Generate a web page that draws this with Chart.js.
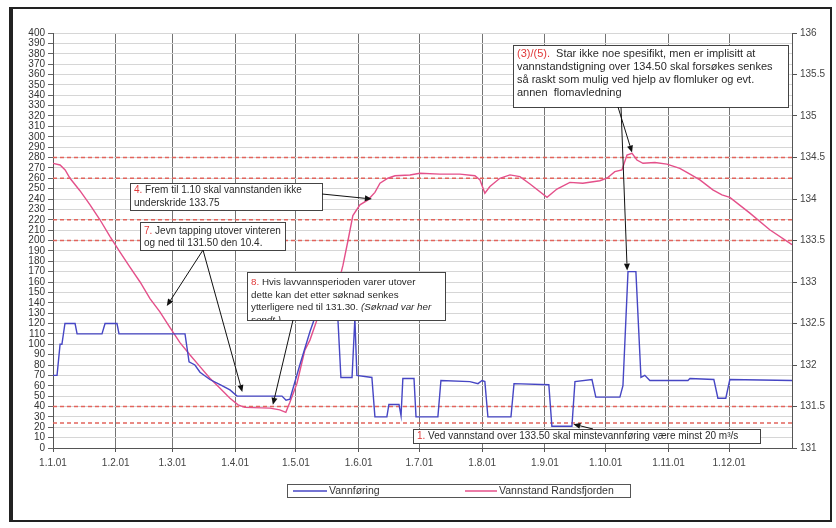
<!DOCTYPE html>
<html>
<head>
<meta charset="utf-8">
<script src="https://cdn.jsdelivr.net/npm/chart.js@4.4.1/dist/chart.umd.min.js"></script>
<style>
  html, body { margin: 0; padding: 0; background: #fff; }
  #wrap { width: 836px; height: 528px; }
</style>
</head>
<body>
<div id="wrap"><canvas id="chart" width="836" height="528"></canvas></div>
<script>
// -------------------------
// Data (x = day of year 2001, 0 = 1.1.01)
// -------------------------
const monthStarts = [0, 31, 59, 90, 120, 151, 181, 212, 243, 273, 304, 334];
const monthLabels = ["1.1.01", "1.2.01", "1.3.01", "1.4.01", "1.5.01", "1.6.01",
                     "1.7.01", "1.8.01", "1.9.01", "1.10.01", "1.11.01", "1.12.01"];

// Vannføring (m3/s, left axis)
const flowDays = [0, 2, 3.5, 4.4, 5.9, 10.9, 11.9, 24.2, 25.7, 31.6, 32.6, 65.2, 67.2, 70.1, 72.6,
  77.5, 82.5, 87.4, 90.9, 113.1, 115.1, 117, 121.9, 126.9, 132.8, 138.8, 140.7, 142.2, 147.7,
  149.1, 150.1, 157.5, 159, 164.9, 165.9, 170.9, 171.9, 172.8, 178.3, 179.3, 190.1, 191.6,
  205.9, 209.9, 211.9, 213.3, 214.8, 226.2, 227.7, 244.9, 246.4, 256.3, 257.8, 266.2, 268.1,
  280, 281.5, 284, 287.9, 290.4, 292.3, 294.8, 313.6, 314.6, 326.4, 328.4, 332.3, 334.3, 365];
const flowValues = [70, 70, 100, 100, 120, 120, 110, 110, 120, 120, 110, 110, 83, 80, 73,
  66, 61, 56, 50, 50, 46, 47, 80, 112, 145, 140, 125, 68, 68,
  125, 70, 68, 30, 30, 42, 42, 31, 67, 67, 30, 30, 65,
  64, 62, 65, 64, 30, 30, 62, 61, 21, 21, 64, 66, 49,
  49, 60, 170, 170, 68, 70, 65, 65, 67, 66, 48, 48, 66, 65];

// Vannstand Randsfjorden (moh, right axis)
const levelDays = [0, 3.5, 6, 8.4, 13.3, 18.3, 23.2, 28.1, 33.1, 38, 43, 47.9, 52.8, 57.8, 62.7,
  67.7, 72.6, 77.5, 82.5, 87.4, 91.4, 94.8, 107.2, 112, 115, 117, 120.5, 124.4, 126.9, 130.9,
  134.3, 138.3, 140.7, 143.2, 145.7, 148.1, 151.6, 155.6, 159, 161.5, 165.4, 168.9, 176.3,
  181.2, 191.1, 201, 208.4, 210.9, 213.3, 215.8, 220.7, 225.7, 230.6, 235.6, 244, 248.9,
  255.3, 261.7, 270.1, 273.6, 277.5, 281, 283.5, 286, 288.4, 291.4, 297.3, 303.2, 309.6,
  314.6, 319.5, 325.9, 330.4, 334.3, 344.2, 354, 365];
const levelValues = [134.43, 134.41, 134.35, 134.25, 134.10, 133.93, 133.75, 133.55, 133.36,
  133.18, 133.0, 132.8, 132.64, 132.45, 132.27, 132.12, 131.98, 131.84, 131.72, 131.60,
  131.52, 131.49, 131.48, 131.46, 131.43, 131.55, 131.78, 132.18, 132.3, 132.58, 132.69,
  132.78, 132.96, 133.2, 133.5, 133.8, 133.93, 133.99, 134.08, 134.19, 134.25, 134.28,
  134.29, 134.31, 134.30, 134.30, 134.28, 134.23, 134.07, 134.15, 134.25, 134.29, 134.27,
  134.18, 134.02, 134.12, 134.2, 134.19, 134.22, 134.25, 134.33, 134.35, 134.53, 134.55,
  134.47, 134.43, 134.44, 134.42, 134.37, 134.3, 134.23, 134.11, 134.05, 134.02, 133.83,
  133.63, 133.45];

// Reguleringsgrenser (dashed lines, right axis)
const guideLevels = [134.5, 134.25, 133.75, 133.5, 131.5, 131.3];

// -------------------------
// Text boxes (box in pixels, arrow tips in data units)
// -------------------------
const RED = "#e03a3a";
const notes = [
  { box: [513, 45, 275, 62], size: 11, top: 53.5, step: 13.2,
    lines: [[["(3)/(5).", RED], ["  Star ikke noe spesifikt, men er implisitt at"]],
            [["vannstandstigning over 134.50 skal forsøkes senkes"]],
            [["så raskt som mulig ved hjelp av flomluker og evt."]],
            [["annen  flomavledning"]]],
    arrows: [{ from: [618, 107], day: 286, y: 134.56, axis: "yR" },
             { from: [621, 107], day: 283.6, y: 171, axis: "y" }] },
  { box: [130, 183, 192, 27], size: 10, top: 190.5, step: 13,
    lines: [[["4.", RED], [" Frem til 1.10 skal vannstanden ikke"]],
            [["underskride 133.75"]]],
    arrows: [{ from: [322, 194], day: 157.5, y: 134.0, axis: "yR" }] },
  { box: [140, 222, 145, 28], size: 10, top: 231, step: 12.5,
    lines: [[["7.", RED], [" Jevn tapping utover vinteren"]],
            [["og ned til 131.50 den 10.4."]]],
    arrows: [{ from: [203, 250], day: 56.2, y: 132.71, axis: "yR" },
             { from: [203, 250], day: 93.5, y: 54, axis: "y" }] },
  { box: [247, 272, 198, 48], size: 9.8, top: 282, step: 12.8,
    lines: [[["8.", RED], [" Hvis lavvannsperioden varer utover"]],
            [["dette kan det etter søknad senkes"]],
            [["ytterligere ned til 131.30. "], ["(Søknad var her", null, true]],
            [["sendt.)", null, true]]],
    arrows: [{ from: [293, 320], day: 108.6, y: 131.52, axis: "yR" }] },
  { box: [413, 429, 347, 14], size: 10, top: 436, step: 12,
    lines: [[["1.", RED], [" Ved vannstand over 133.50 skal minstevannføring være minst 20 m³/s"]]],
    arrows: [{ from: [593, 429], day: 257, y: 23, axis: "y" }] }
];

const FONT = "'Liberation Sans', Arial, sans-serif";

function pairs(xs, ys) {
  return xs.map((x, i) => ({ x: x, y: ys[i] }));
}

function drawArrow(ctx, x1, y1, x2, y2) {
  const a = Math.atan2(y2 - y1, x2 - x1);
  const len = 7, w = 3;
  ctx.strokeStyle = "#111";
  ctx.fillStyle = "#111";
  ctx.lineWidth = 1;
  ctx.beginPath();
  ctx.moveTo(x1, y1);
  ctx.lineTo(x2 - Math.cos(a) * len, y2 - Math.sin(a) * len);
  ctx.stroke();
  ctx.beginPath();
  ctx.moveTo(x2, y2);
  ctx.lineTo(x2 - Math.cos(a) * len - Math.sin(a) * w, y2 - Math.sin(a) * len + Math.cos(a) * w);
  ctx.lineTo(x2 - Math.cos(a) * len + Math.sin(a) * w, y2 - Math.sin(a) * len - Math.cos(a) * w);
  ctx.closePath();
  ctx.fill();
}

// -------------------------
// Plugin: frame, text boxes, arrows, legend
// -------------------------
const notesPlugin = {
  id: "notes",
  beforeDraw(chart) {
    const ctx = chart.ctx;
    ctx.save();
    ctx.fillStyle = "#fff";
    ctx.fillRect(0, 0, chart.width, chart.height);
    ctx.strokeStyle = "#222";
    ctx.lineWidth = 2;
    ctx.strokeRect(12, 8, 819, 513);
    ctx.fillStyle = "#222";
    ctx.fillRect(9, 7, 4, 515);
    ctx.restore();
  },
  afterDatasetsDraw(chart) {
    const ctx = chart.ctx;
    const sx = chart.scales.x;
    ctx.save();
    notes.forEach(n => {
      const [bx, by, bw, bh] = n.box;
      ctx.fillStyle = "#fff";
      ctx.fillRect(bx, by, bw, bh);
      ctx.save();
      ctx.beginPath();
      ctx.rect(bx, by, bw, bh);
      ctx.clip();
      ctx.textBaseline = "middle";
      n.lines.forEach((segs, i) => {
        let x = bx + 4;
        const y = n.top + i * n.step;
        segs.forEach(s => {
          ctx.font = (s[2] ? "italic " : "") + n.size + "px " + FONT;
          ctx.fillStyle = s[1] || "#2a2a2a";
          ctx.fillText(s[0], x, y);
          x += ctx.measureText(s[0]).width;
        });
      });
      ctx.restore();
      ctx.strokeStyle = "#444";
      ctx.lineWidth = 1;
      ctx.strokeRect(bx + 0.5, by + 0.5, bw, bh);
    });
    notes.forEach(n => {
      n.arrows.forEach(a => {
        const tx = sx.getPixelForValue(a.day);
        const ty = chart.scales[a.axis].getPixelForValue(a.y);
        drawArrow(ctx, a.from[0], a.from[1], tx, ty);
      });
    });

    // legend
    ctx.strokeStyle = "#555";
    ctx.lineWidth = 1;
    ctx.strokeRect(287.5, 484.5, 343, 13);
    ctx.font = "10.5px " + FONT;
    ctx.textBaseline = "middle";
    ctx.fillStyle = "#333";
    const items = [[293, 327, chart.data.datasets[0]], [465, 497, chart.data.datasets[1]]];
    items.forEach(([x1, x2, ds]) => {
      ctx.strokeStyle = ds.borderColor;
      ctx.lineWidth = 1.5;
      ctx.beginPath();
      ctx.moveTo(x1, 491);
      ctx.lineTo(x2, 491);
      ctx.stroke();
      ctx.fillText(ds.label, x2 + 2, 491);
    });
    ctx.restore();
  }
};

const guideSets = guideLevels.map(l => ({
  label: "grense " + l,
  data: [{ x: 0, y: l }, { x: 365, y: l }],
  yAxisID: "yR",
  borderColor: "#e2645c",
  borderDash: [4, 3],
  borderWidth: 1.5,
  pointRadius: 0,
  order: 3
}));

new Chart(document.getElementById("chart"), {
  type: "line",
  data: {
    datasets: [
      { label: "Vannføring", data: pairs(flowDays, flowValues), yAxisID: "y",
        borderColor: "#4646c4", borderWidth: 1.4, pointRadius: 0, tension: 0, order: 1 },
      { label: "Vannstand Randsfjorden", data: pairs(levelDays, levelValues), yAxisID: "yR",
        borderColor: "#e4508a", borderWidth: 1.4, pointRadius: 0, tension: 0, order: 2 },
      ...guideSets
    ]
  },
  options: {
    responsive: false,
    animation: false,
    layout: { padding: { left: 13, right: 0, top: 33, bottom: 58 } },
    plugins: { legend: { display: false }, tooltip: { enabled: false } },
    scales: {
      x: {
        type: "linear", min: 0, max: 365,
        afterBuildTicks: axis => { axis.ticks = monthStarts.map(v => ({ value: v })); },
        afterFit: scale => { scale.height = 22; },
        ticks: {
          autoSkip: false, maxRotation: 0, padding: 5,
          color: "#444", font: { family: FONT, size: 10 },
          callback: v => monthLabels[monthStarts.indexOf(v)]
        },
        grid: { color: "#747474", lineWidth: 1, tickLength: 4, tickColor: "#555" },
        border: { color: "#555" }
      },
      y: {
        position: "left", min: 0, max: 400,
        afterFit: scale => { scale.width = 40; },
        ticks: { stepSize: 10, autoSkip: false, padding: 3, color: "#333",
                 font: { family: FONT, size: 10 } },
        grid: { color: "#d6d6d6", lineWidth: 1, tickLength: 5, tickColor: "#666" },
        border: { color: "#555" }
      },
      yR: {
        position: "right", min: 131, max: 136,
        afterFit: scale => { scale.width = 44; },
        ticks: { stepSize: 0.5, autoSkip: false, padding: 3, color: "#444",
                 font: { family: FONT, size: 10 }, callback: v => String(v) },
        grid: { drawOnChartArea: false, tickLength: 5, tickColor: "#555" },
        border: { color: "#555" }
      }
    }
  },
  plugins: [notesPlugin]
});
</script>
</body>
</html>
